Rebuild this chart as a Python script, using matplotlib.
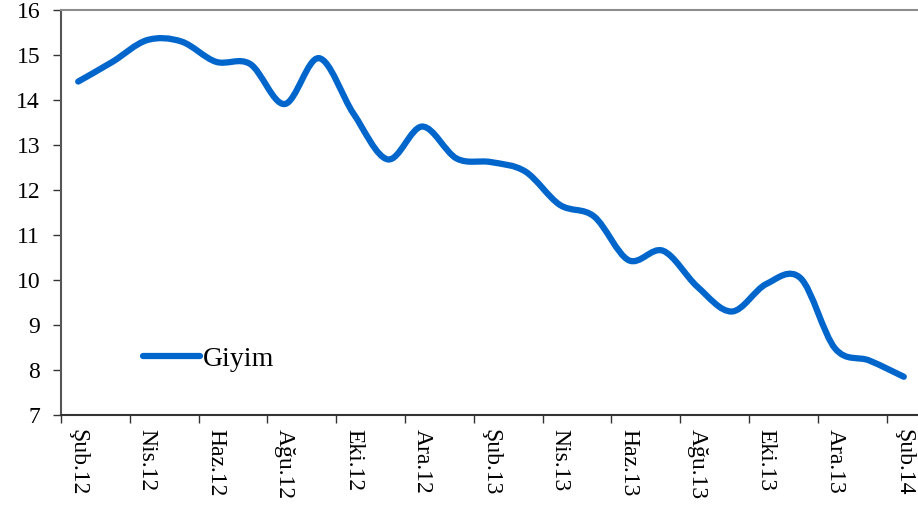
import numpy as np
import matplotlib
matplotlib.use('Agg')
import matplotlib.pyplot as plt
from matplotlib.path import Path
from matplotlib.patches import PathPatch
from matplotlib.lines import Line2D

# Monthly values, Şub.12 .. Şub.14
months = ['Şub.12', 'Mar.12', 'Nis.12', 'May.12', 'Haz.12', 'Tem.12', 'Ağu.12',
          'Eyl.12', 'Eki.12', 'Kas.12', 'Ara.12', 'Oca.13', 'Şub.13', 'Mar.13',
          'Nis.13', 'May.13', 'Haz.13', 'Tem.13', 'Ağu.13', 'Eyl.13', 'Eki.13',
          'Kas.13', 'Ara.13', 'Oca.14', 'Şub.14']
giyim = [14.41, 14.85, 15.33, 15.30, 14.85, 14.80, 13.91, 14.93, 13.70, 12.68,
         13.41, 12.70, 12.62, 12.41, 11.67, 11.41, 10.44, 10.65, 9.85, 9.30,
         9.91, 10.04, 8.48, 8.21, 7.85]
series_name = 'Giyim'

LINE_COLOR = '#0066cc'
plt.rcParams['font.family'] = ['Liberation Serif', 'DejaVu Serif']


def smooth_path(xs, ys):
    """Excel-like smoothed line: cubic Bezier segments through every point."""
    pts = np.column_stack([xs, ys]).astype(float)
    n = len(pts)
    verts = [pts[0]]
    codes = [Path.MOVETO]
    for i in range(n - 1):
        p0 = pts[i - 1] if i > 0 else pts[i]
        p1 = pts[i]
        p2 = pts[i + 1]
        p3 = pts[i + 2] if i + 2 < n else pts[i + 1]
        c1 = p1 + (p2 - p0) / 6.0
        c2 = p2 - (p3 - p1) / 6.0
        verts += [c1, c2, p2]
        codes += [Path.CURVE4] * 3
    return Path(verts, codes)


W, H = 918, 505
fig = plt.figure(figsize=(W / 100, H / 100), dpi=100)
ax = fig.add_axes([61 / W, (H - 415) / H, 860 / W, 405 / H])

x = np.arange(len(months))
ax.add_patch(PathPatch(smooth_path(x, giyim), facecolor='none',
                       edgecolor=LINE_COLOR, lw=4.5,
                       capstyle='round', joinstyle='round'))

ax.set_xlim(-0.5, len(months) - 0.5)
ax.set_ylim(7, 16)
ax.set_yticks(range(7, 17))

# tick marks on category boundaries, labels on category centres
ax.set_xticks(np.arange(-0.5, len(months), 2))
ax.set_xticklabels([])
ax.set_xticks(x[::2], minor=True)
ax.set_xticklabels(months[::2], minor=True, rotation=270, fontsize=17)
ax.tick_params(axis='x', which='major', direction='out', length=6,
               width=1, color='#333333')
ax.tick_params(axis='x', which='minor', length=0, pad=10)
ax.tick_params(axis='y', direction='out', length=6, width=1,
               color='#333333', labelsize=17, pad=9)

ax.spines['top'].set_color('#8c8c8c')
ax.spines['top'].set_linewidth(1.5)
ax.spines['left'].set_color('#555555')
ax.spines['left'].set_linewidth(1.5)
ax.spines['bottom'].set_color('#333333')
ax.spines['bottom'].set_linewidth(1.5)
ax.spines['right'].set_visible(False)

handle = Line2D([], [], color=LINE_COLOR, lw=4.5, solid_capstyle='round')
ax.legend([handle], [series_name], loc='center left',
          bbox_to_anchor=(143 / W, (H - 359) / H),
          bbox_transform=fig.transFigure, frameon=False, fontsize=20,
          handlelength=2.05, handletextpad=0.1, borderpad=0,
          borderaxespad=0)

fig.savefig('out.png', dpi=100)
